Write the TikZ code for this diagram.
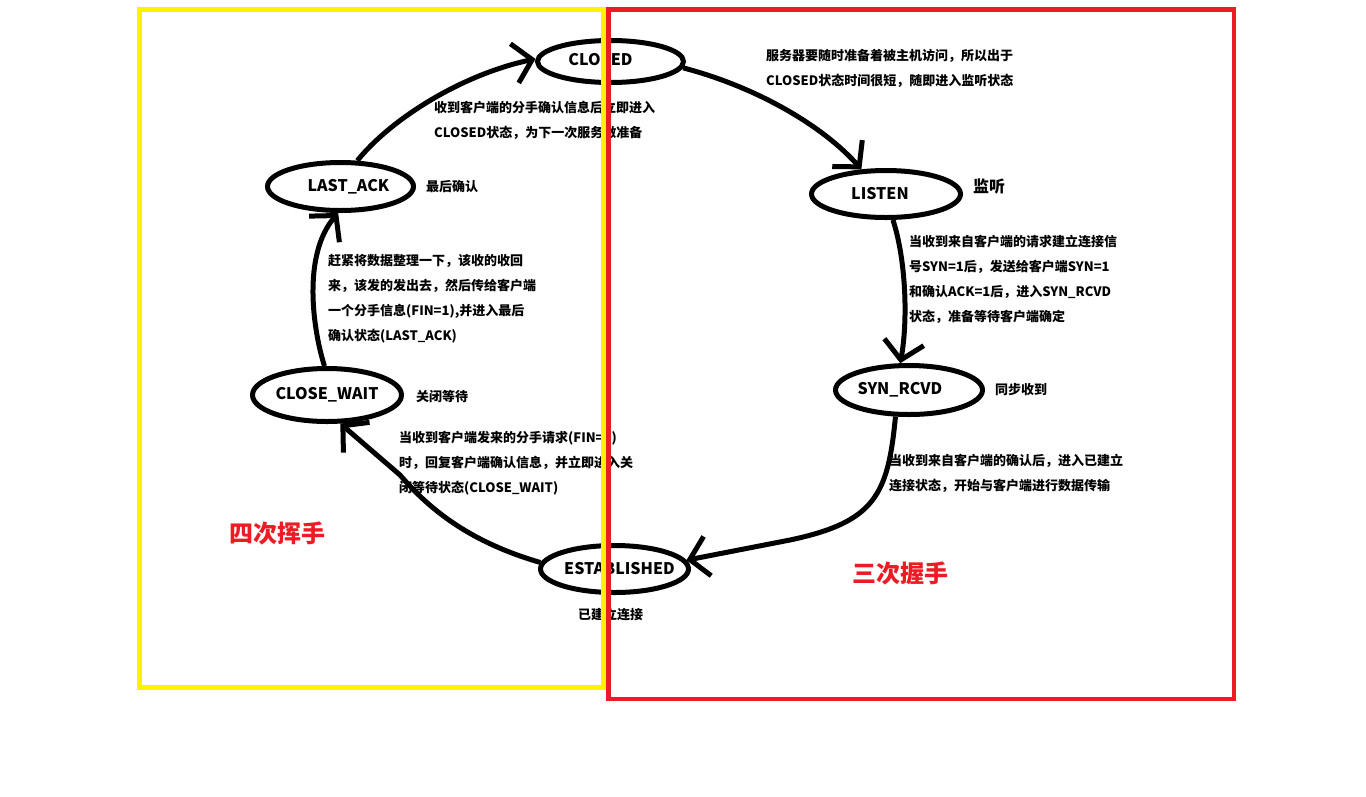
\documentclass[tikz,border=0pt]{standalone}
\usepackage{fontspec}
\setmainfont{Noto Sans CJK SC}
\usetikzlibrary{shapes.geometric,arrows.meta}
\definecolor{myred}{RGB}{237,28,36}
\definecolor{myyellow}{RGB}{255,242,0}
\tikzset{
  state/.style={draw, ellipse, line width=5pt, inner sep=0pt,
    font=\bfseries\fontsize{16}{19}\selectfont},
  conn/.style={line width=5pt, -{Straight Barb[length=18pt,width=40pt]}},
  note/.style={anchor=north west, inner sep=0pt, align=left,
    font=\bfseries\fontsize{13}{25}\selectfont},
  bigtitle/.style={text=myred, inner sep=0pt, font=\bfseries\fontsize{24}{28}\selectfont}
}
\begin{document}
\begin{tikzpicture}[x=1pt,y=-1pt]
\useasboundingbox (0,0) rectangle (1366,796);
\fill[white] (0,0) rectangle (1366,796);

% states
\node[state, minimum width=146pt, minimum height=42pt] (closed) at (610.5,61.5) {\makebox[0pt]{\hspace*{-20pt}\raisebox{4pt}{CLOSED}}};
\node[state, minimum width=149pt, minimum height=47pt] (listen) at (886,194) {\makebox[0pt]{\hspace*{-12pt}LISTEN}};
\node[state, minimum width=147pt, minimum height=49pt] (syn) at (909,390) {\makebox[0pt]{\hspace*{-18pt}SYN\_RCVD}};
\node[state, minimum width=148pt, minimum height=47pt] (est) at (614.5,569) {\makebox[0pt]{\hspace*{10pt}ESTABLISHED}};
\node[state, minimum width=149pt, minimum height=53pt] (cw) at (327,395) {\makebox[0pt]{CLOSE\_WAIT}};
\node[state, minimum width=146pt, minimum height=48pt] (la) at (340.5,186.5) {\makebox[0pt]{\hspace*{16pt}LAST\_ACK}};

% connectors
\draw[conn] (closed.-5) .. controls (760,88) and (825,128) .. (listen.135);
\draw[conn] (listen.-75) .. controls (906,260) and (908,320) .. (syn.108);
\draw[conn] (syn.-117) .. controls (888,495) and (875,522) .. (790,540) -- (est.7);
\draw[conn] (est.175) .. controls (470,542) and (430,510) .. (400,475) -- (cw.-65);
\draw[conn] (cw.95) .. controls (313,330) and (302,255) .. (la.-95);
\draw[conn] (la.57) .. controls (390,120) and (460,75) .. (closed.178);

% annotations
\node[note] (n1) at (766,49.5) {服务器要随时准备着被主机访问，所以出于\\CLOSED状态时间很短，随即进入监听状态};
\node[note] (n2) at (434,100.5) {收到客户端的分手确认信息后立即进入\\CLOSED状态，为下一次服务做准备};
\node[note] (n3) at (426,180.5) {最后确认};
\node[note, font=\bfseries\fontsize{16}{20}\selectfont] (n4) at (973,179) {监听};
\node[note] (n5) at (909,234.5) {当收到来自客户端的请求建立连接信\\号SYN=1后，发送给客户端SYN=1\\和确认ACK=1后，进入SYN\_RCVD\\状态，准备等待客户端确定};
\node[note] (n6) at (328,254.5) {赶紧将数据整理一下，该收的收回\\来，该发的发出去，然后传给客户端\\一个分手信息(FIN=1),并进入最后\\确认状态(LAST\_ACK)};
\node[note] (n7) at (416,390.5) {关闭等待};
\node[note] (n8) at (399,430.5) {当收到客户端发来的分手请求(FIN=1)\\时，回复客户端确认信息，并立即进入关\\闭等待状态(CLOSE\_WAIT)};
\node[note] (n9) at (995,383.5) {同步收到};
\node[note] (n10) at (889,453.5) {当收到来自客户端的确认后，进入已建立\\连接状态，开始与客户端进行数据传输};
\node[note] (n11) at (578,607.5) {已建立连接};

% titles
\node[bigtitle] (t1) at (277,533) {四次挥手};
\node[bigtitle] (t2) at (900,573) {三次握手};

% frames
\draw[myyellow, line width=5pt] (139.5,9.5) rectangle (603.5,687.5);
\draw[myred, line width=4.5pt] (608.5,9.5) rectangle (1234,699);
\end{tikzpicture}
\end{document}
